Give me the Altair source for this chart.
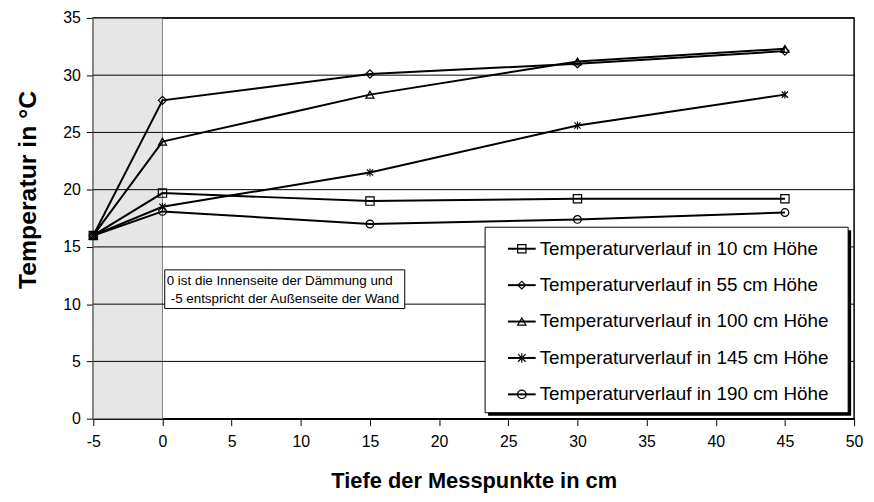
import altair as alt
import pandas as pd

# ---------------- data ----------------
depth = [-5, 0, 15, 30, 45]
series = [
    "Temperaturverlauf in 10 cm Höhe",
    "Temperaturverlauf in 55 cm Höhe",
    "Temperaturverlauf in 100 cm Höhe",
    "Temperaturverlauf in 145 cm Höhe",
    "Temperaturverlauf in 190 cm Höhe",
]
t_10 = [16.0, 19.7, 19.0, 19.2, 19.2]
t_55 = [16.0, 27.8, 30.1, 31.0, 32.1]
t_100 = [16.0, 24.2, 28.3, 31.2, 32.3]
t_145 = [16.0, 18.5, 21.5, 25.6, 28.3]
t_190 = [16.0, 18.1, 17.0, 17.4, 18.0]
x_ticks = list(range(-5, 51, 5))
y_ticks = list(range(0, 36, 5))
band_from = [-5]
band_to = [0]
note_lines = ["0 ist die Innenseite der Dämmung und",
              "-5 entspricht der Außenseite der Wand"]
x_title = "Tiefe der Messpunkte in cm"
y_title = "Temperatur in °C"

asterisk = "M0,-1L0,1M-0.8,-0.8L0.8,0.8M-0.8,0.8L0.8,-0.8"
shapes = ["square", "diamond", "triangle-up", asterisk, "circle"]
sizes = [70, 60, 70, 90, 75]

# ---------------- tables ----------------
rows = []
for name, vals in zip(series, [t_10, t_55, t_100, t_145, t_190]):
    for d, v in zip(depth, vals):
        rows.append({"series": name, "depth": d, "temp": v})
df = pd.DataFrame(rows)
band_df = pd.DataFrame({"x0": band_from, "x1": band_to})
grid_df = pd.DataFrame({"v": y_ticks[1:]})
note_df = pd.DataFrame({"line": note_lines, "i": list(range(len(note_lines)))})
leg_df = pd.DataFrame({"name": series, "i": list(range(len(series)))})

W, H = 767, 404
FONT = "Liberation Sans"

xscale = alt.Scale(domain=[-5, 50], nice=False, zero=False)
yscale = alt.Scale(domain=[0, 35], nice=False, zero=True)
xa = alt.Axis(values=x_ticks, title=x_title, grid=False, tickSize=7,
              labelPadding=8, titleY=62, titleBaseline="middle", labelFlush=False,
              labelExpr="datum.value + ''", titleFontSize=22)
ya = alt.Axis(values=y_ticks, title=y_title, grid=False, tickSize=7,
              labelPadding=6, titleX=-66, titleY=173, titleBaseline="middle",
              labelExpr="datum.value + ''", titleFontSize=25)

X = lambda f: alt.X(f, scale=xscale, axis=xa)
Y = lambda f: alt.Y(f, scale=yscale, axis=ya)

band = alt.Chart(band_df).mark_rect(fill="#e6e6e6", stroke="#7f7f7f", strokeWidth=1).encode(
    x=X("x0:Q"), x2="x1:Q", y=alt.value(0), y2=alt.value(H))

grid = alt.Chart(grid_df).mark_rule(color="black", strokeWidth=1).encode(
    y=Y("v:Q"), x=alt.value(0), x2=alt.value(W))

lines = alt.Chart(df).mark_line(color="black", strokeWidth=2).encode(
    x=X("depth:Q"), y=Y("temp:Q"), detail="series:N")

pts = alt.Chart(df).mark_point(filled=False, color="black", strokeWidth=1.2, opacity=1).encode(
    x=X("depth:Q"), y=Y("temp:Q"),
    shape=alt.Shape("series:N", scale=alt.Scale(domain=series, range=shapes), legend=None),
    size=alt.Size("series:N", scale=alt.Scale(domain=series, range=sizes), legend=None))

layers = [band, grid, lines, pts]

# annotation box
note_box = alt.Chart(note_df).transform_filter(alt.datum.i == 0).mark_rect(
    fill="white", stroke="black", strokeWidth=1).encode(
    x=alt.value(72), x2=alt.value(314), y=alt.value(254), y2=alt.value(293))
layers.append(note_box)
for i in range(len(note_lines)):
    layers.append(
        alt.Chart(note_df).transform_filter(alt.datum.i == i).mark_text(
            align="left", baseline="middle", font=FONT, fontSize=13.5, color="black").encode(
            x=alt.value(74 + 4 * i), y=alt.value(265 + 18 * i), text="line:N"))

# legend
leg_shadow = alt.Chart(leg_df).transform_filter(alt.datum.i == 0).mark_rect(fill="black").encode(
    x=alt.value(398), x2=alt.value(764), y=alt.value(214), y2=alt.value(401))
leg_box = alt.Chart(leg_df).transform_filter(alt.datum.i == 0).mark_rect(
    fill="white", stroke="black", strokeWidth=1).encode(
    x=alt.value(395), x2=alt.value(761), y=alt.value(211), y2=alt.value(398))
layers += [leg_shadow, leg_box]
for i in range(len(series)):
    yy = 232.7 + 36.7 * i
    base = alt.Chart(leg_df).transform_filter(alt.datum.i == i)
    layers.append(base.mark_rule(color="black", strokeWidth=2).encode(
        x=alt.value(418), x2=alt.value(446), y=alt.value(yy)))
    layers.append(base.mark_point(shape=shapes[i], size=sizes[i], filled=False, color="black",
                                  strokeWidth=1.2, opacity=1).encode(
        x=alt.value(432), y=alt.value(yy)))
    layers.append(base.mark_text(align="left", baseline="middle", font=FONT, fontSize=19,
                                 color="black").encode(
        x=alt.value(450), y=alt.value(yy), text="name:N"))

chart = alt.layer(*layers).properties(
    width=W, height=H,
    autosize=alt.AutoSizeParams(type="none"),
    padding={"left": 86, "top": 8, "right": 12, "bottom": 78},
).configure_view(stroke="black", strokeWidth=1.5).configure_axis(
    labelFont=FONT, labelFontSize=16, labelColor="black",
    titleFont=FONT, titleFontWeight="bold", titleColor="black",
    domainColor="black", domainWidth=1.5, tickColor="black", tickWidth=1,
)

chart.save("out.html", embed_options={"renderer": "svg", "actions": False})
